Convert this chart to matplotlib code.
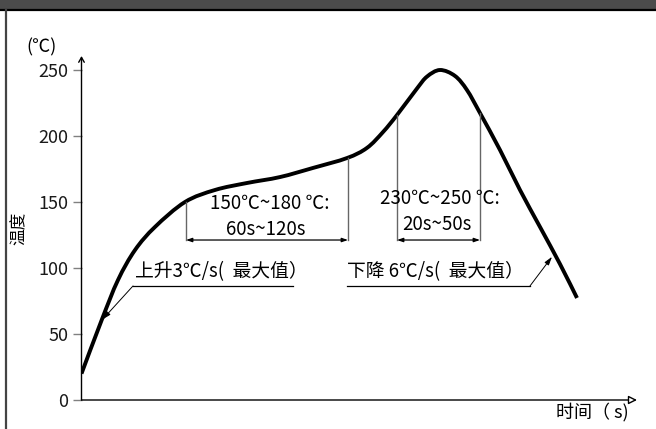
import matplotlib
matplotlib.use("Agg")
import matplotlib.pyplot as plt
from matplotlib.patches import Rectangle, PathPatch
from matplotlib.lines import Line2D
from matplotlib.path import Path

plt.rcParams['font.family'] = ['Noto Sans CJK SC', 'DejaVu Sans']

# ---- data (time in arbitrary seconds, temperature in ℃) ----
time_s = [0, 20.2, 36.5, 53.5, 73.5, 103.5, 133.5, 165.5, 198.5, 231.5, 265.5,
          285.5, 301.5, 315.5, 335.5, 345.5, 358.5, 373.5, 385.5, 398.5, 418.5,
          438.5, 458.5, 478.5, 495.5]
temp_c = [20, 60.6, 90.9, 113.6, 131.1, 150, 159.1, 164.4, 168.9, 175.8, 183.3,
          191.0, 203.0, 215.9, 236.0, 245.0, 250, 245.5, 234.8, 217.4, 189.4,
          159.1, 131.1, 103.0, 77.3]

yticks = [0, 50, 100, 150, 200, 250]

soak_t = [104.5, 266.5]        # 150~180 ℃ zone
soak_top = [150.0, 183.3]
reflow_t = [315.5, 398.5]      # 230~250 ℃ zone
reflow_top = [215.9, 217.4]
bracket_T = 121.2

soak_label = ["150℃~180 ℃:", "60s~120s"]
reflow_label = ["230℃~250 ℃:", "20s~50s"]
rise_label = "上升3℃/s(  最大值）"
fall_label = "下降 6℃/s(  最大值）"
rise_tip = (21.0, 61.0)
fall_tip = (470.5, 108.5)

W, H = 656, 429
fig = plt.figure(figsize=(W / 100, H / 100), dpi=100)
fig.patch.set_facecolor('white')

# header bar and left border
fig.add_artist(Rectangle((0, 1 - 9 / H), 1, 9 / H, transform=fig.transFigure,
                         facecolor='#4b4b4b', edgecolor='none'))
fig.add_artist(Line2D([0, 1], [1 - 10 / H, 1 - 10 / H], transform=fig.transFigure,
                      color='black', lw=1.6))
fig.add_artist(Line2D([6 / W, 6 / W], [0, 1 - 10 / H], transform=fig.transFigure,
                      color='#444444', lw=1.6))

# axes: x from px 81.5 to 637, y from px 400 (0℃) to px 56
x0, x1 = 81.5, 637
ybot, ytop = 400, 56
ax = fig.add_axes([x0 / W, (H - ybot) / H, (x1 - x0) / W, (ybot - ytop) / H])
ax.set_xlim(0, x1 - x0)
ax.set_ylim(0, (ybot - ytop) / 1.32)
ax.patch.set_alpha(0)
for s in ax.spines.values():
    s.set_visible(False)
ax.set_xticks([])
ax.set_yticks(yticks)
ax.tick_params(axis='y', direction='out', length=6.5, width=1, color='#808080',
               labelsize=13, labelcolor='#1a1a1a', pad=3)

# axis lines with arrows
ax.annotate('', xy=(0, (ybot - ytop) / 1.32), xytext=(0, 0),
            arrowprops=dict(arrowstyle='->,head_length=0.35,head_width=0.2',
                            lw=1, color='black', shrinkA=0, shrinkB=0))
ax.annotate('', xy=(x1 - x0, 0), xytext=(0, 0),
            arrowprops=dict(arrowstyle='-|>,head_length=0.5,head_width=0.25',
                            lw=1, color='black', fc='white', shrinkA=0, shrinkB=0))

# smooth curve through the read points (Catmull-Rom rendered as Bezier path)
pts = list(zip(time_s, temp_c))
n = len(pts)
verts = [pts[0]]
codes = [Path.MOVETO]
for i in range(n - 1):
    p0 = pts[i - 1] if i > 0 else pts[i]
    p1 = pts[i]
    p2 = pts[i + 1]
    p3 = pts[i + 2] if i + 2 < n else pts[i + 1]
    c1 = (p1[0] + (p2[0] - p0[0]) / 6, p1[1] + (p2[1] - p0[1]) / 6)
    c2 = (p2[0] - (p3[0] - p1[0]) / 6, p2[1] - (p3[1] - p1[1]) / 6)
    verts += [c1, c2, p2]
    codes += [Path.CURVE4] * 3
ax.add_patch(PathPatch(Path(verts, codes), facecolor='none', edgecolor='black',
                       lw=2.8, capstyle='butt', joinstyle='round'))

# brackets
arrow_kw = dict(arrowstyle='<|-|>,head_length=0.35,head_width=0.12', lw=0.9,
                color='black', shrinkA=0, shrinkB=0)
for tt, tops in ((soak_t, soak_top), (reflow_t, reflow_top)):
    for t, top in zip(tt, tops):
        ax.plot([t, t], [bracket_T, top], color='#666666', lw=1)
    ax.annotate('', xy=(tt[1], bracket_T), xytext=(tt[0], bracket_T),
                arrowprops=arrow_kw)

fs = 13.5
ax.text(188.5, 149.2, soak_label[0], ha='center', va='center', fontsize=fs)
ax.text(184.5, 129.5, soak_label[1], ha='center', va='center', fontsize=fs)
ax.text(358.5, 152.3, reflow_label[0], ha='center', va='center', fontsize=fs)
ax.text(355.5, 132.6, reflow_label[1], ha='center', va='center', fontsize=fs)

# rate annotations
uT = 86.4
ax.text(53.5, 97.0, rise_label, ha='left', va='center', fontsize=fs)
ax.plot([51.5, 211.5], [uT, uT], color='black', lw=0.9)
ax.annotate('', xy=rise_tip, xytext=(51.5, uT),
            arrowprops=dict(arrowstyle='-|>,head_length=0.5,head_width=0.15',
                            lw=0.7, color='black', shrinkA=0, shrinkB=0))
ax.text(265.5, 97.0, fall_label, ha='left', va='center', fontsize=fs)
ax.plot([265.5, 448.5], [uT, uT], color='black', lw=0.9)
ax.annotate('', xy=fall_tip, xytext=(448.5, uT),
            arrowprops=dict(arrowstyle='-|>,head_length=0.5,head_width=0.15',
                            lw=0.7, color='black', shrinkA=0, shrinkB=0))

# unit / axis labels
fig.text(41 / W, 1 - 47 / H, '(℃)', ha='center', va='center', fontsize=13)
fig.text(19 / W, 1 - 228 / H, '温度', ha='center', va='center', rotation=90,
         fontsize=12)
fig.text(592 / W, 1 - 412 / H, '时间（ s)', ha='center', va='center', fontsize=13)

fig.savefig('out.png', dpi=100)
